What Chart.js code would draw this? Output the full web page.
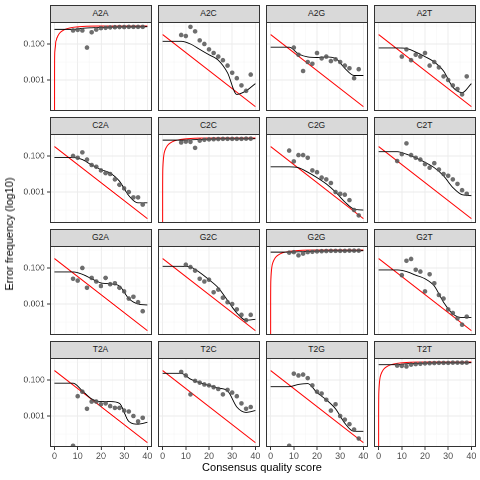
<!DOCTYPE html>
<html><head><meta charset="utf-8">
<script src="https://cdn.jsdelivr.net/npm/chart.js@4"></script>
<style>
body{margin:0;background:#fff;width:480px;height:480px;position:relative;overflow:hidden;font-family:"Liberation Sans",Arial,sans-serif}
canvas{position:absolute}
.strip{position:absolute;background:#D9D9D9;border:1px solid #333;box-sizing:border-box;font-size:8.5px;color:#1a1a1a;text-align:center;line-height:15px}
.t{position:absolute;color:#000;font-size:11px;white-space:nowrap}
</style></head><body>
<script>
const PANELS=["A2A","A2C","A2G","A2T","C2A","C2C","C2G","C2T","G2A","G2C","G2G","G2T","T2A","T2C","T2G","T2T"];
const X_TICKS=[0,10,20,30,40];
const Y_TICK_LABELS={"0.1":"0.100","0.001":"0.001"};
const OBS_Q=[8,10,12,14,16,18,20,22,24,26,28,30,32,34,36,38];
const FIT_Q=[0,8,12,16,20,24,28,32,36,40];
// observed error frequencies, log10
const A2A_obs=[-0.25,-0.22,-0.25,-1.2,-0.35,-0.2,-0.12,-0.1,-0.08,-0.07,-0.06,-0.06,-0.05,-0.05,-0.05,-0.05];
const A2C_obs=[-0.5,-0.56,-0.05,-0.3,-0.8,-1.0,-1.3,-1.5,-1.7,-1.9,-2.2,-2.6,-2.9,-3.3,-3.6,-2.7];
const A2G_obs=[null,-1.2,-1.6,-2.5,-2.0,-2.1,-1.5,-1.8,-1.7,-1.95,-1.85,-2.0,-2.2,-2.35,-2.9,-2.4];
const A2T_obs=[null,-1.7,-1.3,-1.9,-1.6,-1.7,-1.5,-2.2,-2.0,-2.3,-2.8,-3.0,-3.3,-3.5,-3.8,-2.8];
const C2A_obs=[-1.0,-1.1,-0.8,-1.2,-1.5,-1.6,-1.8,-1.95,-2.0,-2.3,-2.6,-2.8,-3.0,-3.3,-3.3,-3.7];
const C2C_obs=[-0.25,-0.2,-0.22,-0.55,-0.15,-0.1,-0.08,-0.07,-0.06,-0.05,-0.05,-0.05,-0.05,-0.05,-0.04,-0.04];
const C2G_obs=[-0.7,-1.3,-0.95,-0.95,-1.1,-1.8,-1.9,-2.2,-2.3,-2.5,-3.0,-3.1,-3.15,-3.45,-4.0,-4.3];
const C2T_obs=[-1.28,-0.9,-0.3,-0.95,-1.1,-1.2,-1.45,-1.65,-1.4,-1.75,-2.0,-2.1,-2.3,-2.55,-2.9,-3.1];
const G2A_obs=[-1.6,-1.7,-1.0,-2.1,-1.55,-1.75,-2.0,-1.55,-1.9,-1.85,-2.1,-2.3,-2.7,-2.6,-2.9,-3.4];
const G2C_obs=[null,-0.82,-0.95,-1.15,-1.6,-1.75,-1.65,-2.35,-2.2,-2.65,-2.9,-3.0,-3.3,-3.6,-3.9,-3.6];
const G2G_obs=[-0.15,-0.12,-0.3,-0.2,-0.12,-0.1,-0.08,-0.07,-0.06,-0.05,-0.05,-0.05,-0.05,-0.04,-0.04,-0.04];
const G2T_obs=[null,-1.4,-0.6,-0.5,-1.1,-1.2,-2.3,-1.35,-1.85,-2.5,-2.7,-3.3,-3.5,-3.8,-4.15,-3.7];
const T2A_obs=[-4.65,-1.9,-1.65,-2.6,-2.2,-2.2,-2.35,-2.3,-2.45,-2.55,-2.55,-2.7,-2.75,-3.0,-3.3,-3.1];
const T2C_obs=[-0.55,-0.75,-1.8,-1.05,-1.15,-1.25,-1.3,-1.4,-1.5,-1.8,-1.55,-1.7,-1.9,-2.3,-2.6,-2.5];
const T2G_obs=[-4.65,-0.65,-0.75,-0.7,-0.9,-1.3,-1.65,-1.75,-2.1,-2.7,-2.35,-3.0,-3.2,-3.45,-3.75,-4.25];
const T2T_obs=[-0.2,-0.22,-0.25,-0.15,-0.12,-0.1,-0.08,-0.07,-0.06,-0.05,-0.05,-0.05,-0.04,-0.04,-0.04,-0.04];
// fitted error rates, log10
const A2A_fit=[-0.19,-0.19,-0.13,-0.1,-0.08,-0.07,-0.06,-0.05,-0.05,-0.04];
const A2C_fit=[-0.85,-0.85,-1.0,-1.3,-1.6,-1.9,-2.6,-3.8,-3.6,-3.2];
const A2G_fit=[-1.18,-1.18,-1.55,-1.72,-1.75,-1.72,-1.8,-2.35,-2.75,-2.75];
const A2T_fit=[-1.22,-1.22,-1.25,-1.45,-1.7,-2.0,-2.5,-3.4,-3.7,-3.2];
const C2A_fit=[-1.09,-1.09,-1.2,-1.5,-1.75,-1.95,-2.4,-3.2,-3.6,-3.6];
const C2C_fit=[-0.12,-0.12,-0.1,-0.08,-0.07,-0.06,-0.05,-0.05,-0.05,-0.04];
const C2G_fit=[-1.6,-1.6,-1.65,-1.9,-2.2,-2.55,-3.0,-3.55,-3.95,-4.0];
const C2T_fit=[-0.76,-0.76,-0.9,-1.1,-1.35,-1.65,-2.1,-2.75,-3.15,-3.2];
const G2A_fit=[-1.22,-1.22,-1.35,-1.6,-1.83,-1.88,-2.0,-2.7,-3.0,-3.05];
const G2C_fit=[-0.91,-0.91,-0.95,-1.25,-1.65,-2.1,-2.8,-3.5,-3.9,-3.85];
const G2G_fit=[-0.12,-0.12,-0.1,-0.08,-0.07,-0.06,-0.05,-0.05,-0.05,-0.04];
const G2T_fit=[-1.11,-1.11,-1.2,-1.4,-1.6,-2.0,-2.9,-3.55,-3.75,-3.75];
const T2A_fit=[-1.18,-1.18,-1.6,-2.05,-2.2,-2.2,-2.3,-3.3,-3.45,-3.35];
const T2C_fit=[-0.63,-0.63,-0.95,-1.15,-1.3,-1.45,-1.6,-2.5,-2.8,-2.7];
const T2G_fit=[-1.37,-1.37,-1.25,-1.2,-1.7,-2.1,-2.6,-3.4,-3.85,-3.85];
const T2T_fit=[-0.15,-0.15,-0.1,-0.08,-0.07,-0.06,-0.05,-0.05,-0.05,-0.04];
// nominal (red) rates
const NOM_OFF_Q=[0,40];
const NOM_OFF=[0.3333,0.0000333];
const NOM_DIAG_Q=[0,0.005,0.02,0.1,0.5,1,2,3,5,8,12,20,40];
const NOM_DIAG=[0.000001,0.00115,0.0046,0.0228,0.109,0.206,0.369,0.499,0.684,0.842,0.937,0.99,0.9999];

const OBS={A2A_obs,A2C_obs,A2G_obs,A2T_obs,C2A_obs,C2C_obs,C2G_obs,C2T_obs,G2A_obs,G2C_obs,G2G_obs,G2T_obs,T2A_obs,T2C_obs,T2G_obs,T2T_obs};
const FIT={A2A_fit,A2C_fit,A2G_fit,A2T_fit,C2A_fit,C2C_fit,C2G_fit,C2T_fit,G2A_fit,G2C_fit,G2G_fit,G2T_fit,T2A_fit,T2C_fit,T2G_fit,T2T_fit};

const PL=49.5,PW=102,PH=89,COLP=108,ROWP=112,STRIP=17,TOP0=5;
const YMIN=Math.pow(10,-4.72),YMAX=Math.pow(10,0.22);
const frame={id:'frame',afterDraw(c){const a=c.chartArea,x=c.ctx;x.save();x.strokeStyle='#333';x.lineWidth=1;x.strokeRect(a.left+0.5,a.top+0.5,a.right-a.left-1,a.bottom-a.top-1);x.restore();}};

PANELS.forEach((name,i)=>{
  const col=i%4,row=Math.floor(i/4);
  const left=PL+col*COLP, stripTop=TOP0+row*ROWP, top=stripTop+STRIP;
  const s=document.createElement('div');s.className='strip';
  s.style.cssText=`left:${left}px;top:${stripTop}px;width:${PW}px;height:${STRIP+1}px`;
  s.textContent=name;document.body.appendChild(s);
  const isL=col===0,isB=row===3;
  const cw=PW+(isL?PL:0), ch=PH+(isB?16:0);
  const cv=document.createElement('canvas');
  cv.style.left=(isL?0:left)+'px';cv.style.top=top+'px';
  cv.style.width=cw+'px';cv.style.height=ch+'px';
  document.body.appendChild(cv);
  const diag=name[0]===name[2];
  const obs=OBS[name+'_obs'],fit=FIT[name+'_fit'];
  const obsPts=OBS_Q.map((q,k)=>obs[k]==null?null:{x:q,y:Math.pow(10,obs[k])}).filter(p=>p);
  const fitPts=FIT_Q.map((q,k)=>({x:q,y:Math.pow(10,fit[k])}));
  const nq=diag?NOM_DIAG_Q:NOM_OFF_Q,nv=diag?NOM_DIAG:NOM_OFF;
  const nomPts=nq.map((q,k)=>({x:q,y:nv[k]}));
  new Chart(cv,{
    type:'scatter',
    data:{datasets:[
      {data:obsPts,pointRadius:2.3,pointBackgroundColor:'rgba(85,85,85,0.85)',pointBorderWidth:0,showLine:false},
      {data:fitPts,showLine:true,borderColor:'#000',borderWidth:0.9,pointRadius:0,cubicInterpolationMode:'monotone'},
      {data:nomPts,showLine:true,borderColor:'#FF0000',borderWidth:1,pointRadius:0,tension:diag?0.3:0}
    ]},
    options:{
      responsive:false,animation:false,devicePixelRatio:2,
      layout:{padding:0,autoPadding:false},
      plugins:{legend:{display:false},tooltip:{enabled:false}},
      clip:true,
      scales:{
        x:{type:'linear',min:-2,max:42,
          afterBuildTicks:a=>{a.ticks=[0,5,10,15,20,25,30,35,40].map(v=>({value:v}));},
          afterFit:a=>{a.height=isB?16:0;a.paddingLeft=0;a.paddingRight=0;a.paddingTop=0;a.paddingBottom=0;},
          grid:{color:c=>c.tick&&c.tick.value%10===0?'#EBEBEB':'#F4F4F4',lineWidth:c=>c.tick&&c.tick.value%10===0?0.9:0.5,
            drawTicks:isB,tickLength:3,tickColor:'#333',tickWidth:c=>c.tick&&c.tick.value%10===0?1:0},
          border:{display:false},
          ticks:{display:isB,padding:1,color:'#4D4D4D',font:{size:9,family:'Liberation Sans'},autoSkip:false,maxRotation:0,
            callback:v=>X_TICKS.includes(v)?String(v):''}},
        y:{type:'logarithmic',min:YMIN,max:YMAX,
          afterBuildTicks:a=>{a.ticks=[1,0.1,0.01,0.001,0.0001].map(v=>({value:v}));},
          afterFit:a=>{a.width=isL?PL:0;a.paddingTop=0;a.paddingBottom=0;a.paddingLeft=0;a.paddingRight=0;},
          grid:{color:c=>c.tick&&Y_TICK_LABELS[String(c.tick.value)]?'#EBEBEB':'#F4F4F4',lineWidth:c=>c.tick&&Y_TICK_LABELS[String(c.tick.value)]?0.9:0.5,
            drawTicks:isL,tickLength:3,tickColor:'#333',tickWidth:c=>c.tick&&Y_TICK_LABELS[String(c.tick.value)]?1:0},
          border:{display:false},
          ticks:{display:isL,padding:2,color:'#4D4D4D',font:{size:8.5,family:'Liberation Sans'},autoSkip:false,
            callback:v=>Y_TICK_LABELS[String(v)]||''}}
      }
    },
    plugins:[frame]
  });
});
const xt=document.createElement('div');xt.className='t';xt.textContent='Consensus quality score';
xt.style.cssText='left:262px;top:461px;transform:translateX(-50%)';document.body.appendChild(xt);
const yt=document.createElement('div');yt.className='t';yt.textContent='Error frequency (log10)';
yt.style.cssText='left:9px;top:234px;transform:translate(-50%,-50%) rotate(-90deg)';document.body.appendChild(yt);
</script>
</body></html>
